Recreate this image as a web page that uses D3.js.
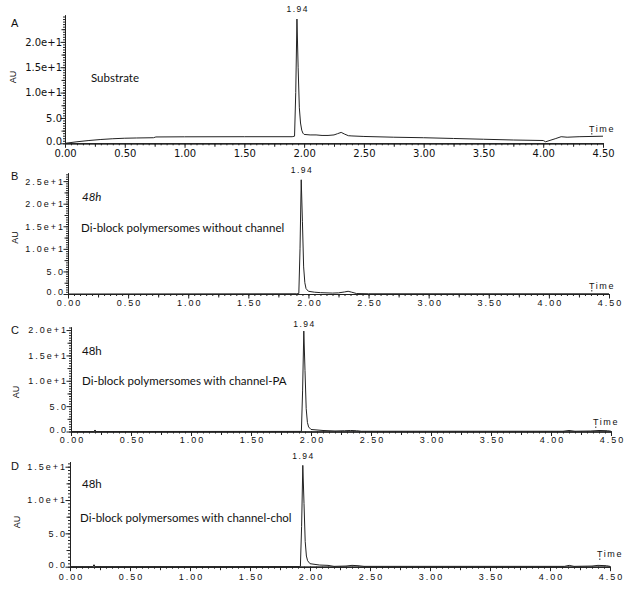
<!DOCTYPE html>
<html><head><meta charset="utf-8">
<script src="https://cdn.jsdelivr.net/npm/d3@7"></script>
<style>body{margin:0;background:#fff} svg{display:block}</style>
</head><body><svg id="c" width="634" height="599"></svg>
<script>
// ---------- data ----------
const timeTicks = [0, 0.5, 1, 1.5, 2, 2.5, 3, 3.5, 4, 4.5];
const timeTickLabels = ["0.00","0.50","1.00","1.50","2.00","2.50","3.00","3.50","4.00","4.50"];
const peakTime = 1.94;
const peakLabel = "1.94";
const panelLetters = ["A","B","C","D"];
const hourLabels = ["", "48h", "48h", "48h"];
const sampleLabels = ["Substrate", "Di-block polymersomes without channel",
  "Di-block polymersomes with channel-PA", "Di-block polymersomes with channel-chol"];

const timesA  = [0.00,0.05,0.10,0.20,0.30,0.40,0.50,0.60,0.74,0.76,1.00,1.50,1.90,1.92,1.93,1.94,1.95,1.96,1.97,1.98,1.99,2.00,2.05,2.10,2.15,2.20,2.25,2.28,2.31,2.34,2.37,2.40,2.50,2.75,3.00,3.25,3.50,3.75,4.00,4.02,4.10,4.15,4.20,4.30,4.50];
const valuesA = [0.00,0.15,0.30,0.55,0.75,0.90,1.00,1.05,1.10,1.25,1.28,1.30,1.30,1.40,10.0,24.5,15.0,7.00,4.00,2.60,2.00,1.75,1.65,1.65,1.55,1.55,1.65,1.90,2.15,1.80,1.50,1.45,1.35,1.20,1.10,0.95,0.80,0.65,0.55,0.30,0.90,1.30,1.20,1.30,1.40];
const yTicksA = [0, 5, 10, 15, 20];
const yLabelsA = ["0.0","5.0","1.0e+1","1.5e+1","2.0e+1"];

const timesB  = [0.00,1.90,1.92,1.93,1.94,1.95,1.96,1.97,1.98,2.00,2.05,2.10,2.20,2.25,2.30,2.33,2.36,2.40,2.50,4.50];
const valuesB = [0.00,0.05,0.10,10.0,25.3,16.0,6.00,2.50,1.20,0.60,0.40,0.30,0.20,0.25,0.45,0.60,0.40,0.10,0.05,0.05];
const yTicksB = [0, 5, 10, 15, 20, 25];
const yLabelsB = ["0.0","5.0","1.0e+1","1.5e+1","2.0e+1","2.5e+1"];

const timesC  = [0.00,0.19,0.20,0.21,1.91,1.92,1.93,1.94,1.95,1.96,1.97,1.98,2.00,2.10,2.20,2.28,2.33,2.38,2.42,4.10,4.15,4.20,4.33,4.40,4.47,4.50];
const valuesC = [0.00,0.00,0.30,0.00,0.02,0.05,8.00,19.8,12.0,4.50,1.80,0.90,0.40,0.20,0.10,0.15,0.20,0.15,0.05,0.05,0.20,0.05,0.10,0.20,0.15,0.05];
const yTicksC = [0, 5, 10, 15, 20];
const yLabelsC = ["0.0","5.0","1.0e+1","1.5e+1","2.0e+1"];

const timesD  = [0.00,0.19,0.20,0.21,1.91,1.92,1.93,1.94,1.95,1.96,1.97,1.98,2.00,2.08,2.15,2.20,2.30,2.35,2.40,2.45,4.12,4.16,4.20,4.35,4.40,4.47,4.50];
const valuesD = [0.00,0.00,0.30,0.00,0.02,0.05,6.00,15.2,9.50,3.80,1.60,0.90,0.45,0.25,0.20,0.05,0.10,0.20,0.15,0.05,0.05,0.20,0.05,0.10,0.20,0.15,0.05];
const yTicksD = [0, 5, 10, 15];
const yLabelsD = ["0.0","5.0","1.0e+1","1.5e+1"];

// ---------- layout ----------
const panels = [
  {t: timesA, v: valuesA, yt: yTicksA, yl: yLabelsA, x0: 65, x1: 603, yb: 143.3, ytop: 15, ymax: 25.3,
   style: "A", letter: [11, 27], au: [13, 77], hour: null, sample: [91, 82], peakY: 12, timeXY: [589, 131.5], xLabOff: 13.5},
  {t: timesB, v: valuesB, yt: yTicksB, yl: yLabelsB, x0: 68, x1: 609, yb: 294, ytop: 173, ymax: 26.8,
   style: "B", letter: [11, 180], au: [15, 237.5], hour: [82, 200.5], italic: true, sample: [81, 231.5], peakY: 172.5, timeXY: [589, 288.5], xLabOff: 12},
  {t: timesC, v: valuesC, yt: yTicksC, yl: yLabelsC, x0: 71, x1: 611, yb: 431.5, ytop: 327, ymax: 20.6,
   style: "B", letter: [11, 334], au: [15.5, 392], hour: [82, 355], italic: false, sample: [82, 385], peakY: 326.5, timeXY: [593, 425], xLabOff: 11.5},
  {t: timesD, v: valuesD, yt: yTicksD, yl: yLabelsD, x0: 70, x1: 610, yb: 566.7, ytop: 461.7, ymax: 15.75,
   style: "B", letter: [11, 470], au: [17, 522], hour: [82, 488], italic: false, sample: [80, 521.5], peakY: 458.5, timeXY: [597, 557], xLabOff: 13}
];

const svg = d3.select("#c");
const lineCol = "#222";

panels.forEach((p, i) => {
  const g = svg.append("g");
  const x = d3.scaleLinear().domain([0, 4.5]).range([p.x0, p.x1]);
  const y = d3.scaleLinear().domain([0, p.ymax]).range([p.yb, p.ytop]);
  const tickFont = p.style === "A" ? "DejaVu Sans" : "Liberation Sans";
  const tickSize = p.style === "A" ? 10 : 9;
  const spacing = p.style === "A" ? 0 : 2;

  // x axis minor/medium/major ticks
  const minorX = d3.range(0, 91).map(k => k * 0.05);
  const medX = d3.range(0, 9).map(k => k * 0.5 + 0.25);
  g.append("g").attr("transform", `translate(0,${p.yb})`)
    .call(d3.axisBottom(x).tickValues(minorX).tickSize(2).tickFormat("").tickSizeOuter(0));
  g.append("g").attr("transform", `translate(0,${p.yb})`)
    .call(d3.axisBottom(x).tickValues(medX).tickSize(3.5).tickFormat("").tickSizeOuter(0));
  const xa = g.append("g").attr("transform", `translate(0,${p.yb})`)
    .call(d3.axisBottom(x).tickValues(timeTicks).tickSize(4.5).tickSizeOuter(0)
      .tickFormat((d, k) => timeTickLabels[k]));
  xa.selectAll("text").attr("y", p.xLabOff).attr("dy", 0)
    .attr("font-family", tickFont).attr("font-size", tickSize)
    .attr("letter-spacing", spacing).attr("dx", spacing / 2).attr("fill", "#111");

  // y axis ticks
  const nMinor = Math.floor(p.ymax / 0.5);
  const minorY = d3.range(0, nMinor + 1).map(k => k * 0.5);
  const medY = d3.range(0, Math.floor(p.ymax / 5) + 1).map(k => k * 5 + 2.5).filter(d => d <= p.ymax);
  g.append("g").attr("transform", `translate(${p.x0},0)`)
    .call(d3.axisLeft(y).tickValues(minorY).tickSize(2).tickFormat("").tickSizeOuter(0));
  g.append("g").attr("transform", `translate(${p.x0},0)`)
    .call(d3.axisLeft(y).tickValues(medY).tickSize(3.5).tickFormat("").tickSizeOuter(0));
  const ya = g.append("g").attr("transform", `translate(${p.x0},0)`)
    .call(d3.axisLeft(y).tickValues(p.yt).tickSize(4.5).tickSizeOuter(0)
      .tickFormat((d, k) => p.yl[k]));
  ya.selectAll("text").attr("x", -3).attr("font-family", tickFont).attr("font-size", tickSize)
    .attr("letter-spacing", spacing).attr("fill", "#111");
  ya.selectAll(".tick").filter(d => d === 0).select("text").attr("dy", "0.1em");

  g.selectAll(".domain").attr("stroke", lineCol);
  g.selectAll(".tick line").attr("stroke", lineCol);

  // trace
  const pts = p.t.map((tt, k) => [tt, p.v[k]]);
  g.append("path").datum(pts)
    .attr("fill", "none").attr("stroke", lineCol).attr("stroke-width", 1)
    .attr("d", d3.line().x(d => x(d[0])).y(d => y(d[1])));

  // peak label
  g.append("text").attr("x", x(peakTime)).attr("y", p.peakY).attr("text-anchor", "middle")
    .attr("font-family", "Liberation Sans").attr("font-size", 8.5)
    .attr("letter-spacing", 1.5).attr("dx", 0.75).attr("fill", "#111").text(peakLabel);

  // Time label
  g.append("text").attr("x", p.timeXY[0]).attr("y", p.timeXY[1])
    .attr("font-family", "Liberation Sans").attr("font-size", 9)
    .attr("letter-spacing", 1.6).attr("fill", "#111").text("Time");
  g.append("line").attr("x1", p.timeXY[0] + 2.8).attr("x2", p.timeXY[0] + 2.8)
    .attr("y1", p.timeXY[1] + 1.5).attr("y2", p.timeXY[1] + 3).attr("stroke", "#333");

  // letter
  g.append("text").attr("x", p.letter[0]).attr("y", p.letter[1])
    .attr("font-family", "Liberation Sans").attr("font-size", 11).attr("fill", "#111").text(panelLetters[i]);

  // AU
  g.append("text").attr("transform", `translate(${p.au[0]},${p.au[1]}) rotate(-90)`)
    .attr("text-anchor", "middle").attr("dy", "0.35em")
    .attr("font-family", "Liberation Sans").attr("font-size", 9).attr("fill", "#111").text("AU");

  // annotations
  if (p.hour) {
    g.append("text").attr("x", p.hour[0]).attr("y", p.hour[1])
      .attr("font-family", "Lato").attr("font-size", 11.5)
      .attr("font-style", p.italic ? "italic" : "normal").attr("fill", "#111").text(hourLabels[i]);
  }
  g.append("text").attr("x", p.sample[0]).attr("y", p.sample[1])
    .attr("font-family", "Lato").attr("font-size", 11.5).attr("fill", "#111").text(sampleLabels[i]);
});
</script>
</body></html>
